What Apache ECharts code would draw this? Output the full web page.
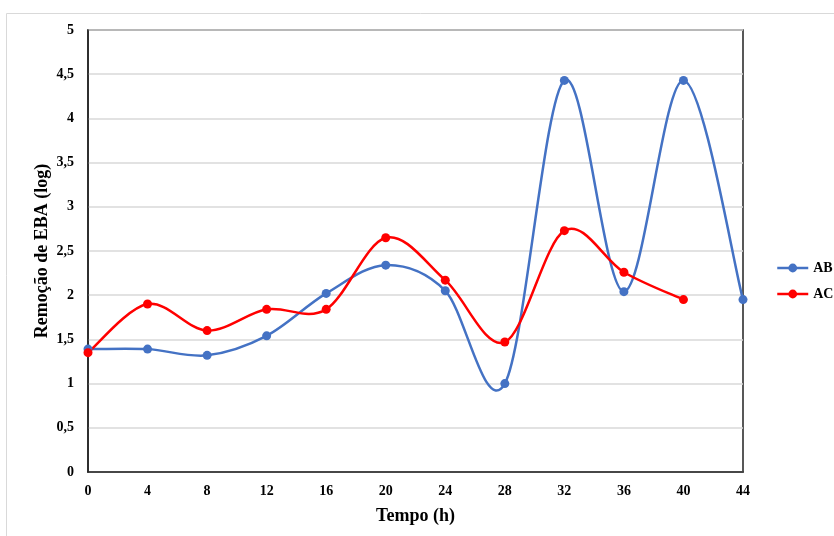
<!DOCTYPE html>
<html><head><meta charset="utf-8">
<script src="https://cdn.jsdelivr.net/npm/echarts@6/dist/echarts.min.js"></script>
<style>html,body{margin:0;padding:0;background:#fff}#c{width:834px;height:536px}</style>
</head><body><div id="c"></div>
<script>
const hours = [0, 4, 8, 12, 16, 20, 24, 28, 32, 36, 40, 44];
const abValues = [1.39, 1.39, 1.32, 1.54, 2.02, 2.34, 2.05, 1.00, 4.43, 2.04, 4.43, 1.95];
const acValues = [1.35, 1.90, 1.60, 1.84, 1.84, 2.65, 2.17, 1.47, 2.73, 2.26, 1.95];
const seriesNames = ['AB', 'AC'];
const seriesColors = ['#4472C4', '#FF0000'];
const xTitle = 'Tempo (h)';
const yTitle = 'Remoção de EBA (log)';

const font = '"Liberation Serif", "Times New Roman", serif';
const chart = echarts.init(document.getElementById('c'), null, {renderer: 'canvas'});
const pairs = vals => vals.map((v, i) => [hours[i], v]);

// Catmull-Rom style smoothed segment (like spreadsheet "smoothed line"), drawn via axis coords
function smoothSeries(name, vals, color) {
  const data = pairs(vals);
  return {
    name: name, type: 'custom', z: 1, silent: true, data: data,
    encode: {x: 0, y: 1},
    renderItem: function (params, api) {
      const i = params.dataIndex;
      if (i >= data.length - 1) return null;
      const p = k => api.coord(data[Math.max(0, Math.min(data.length - 1, k))]);
      const p0 = p(i - 1), p1 = p(i), p2 = p(i + 1), p3 = p(i + 2);
      return {
        type: 'bezierCurve',
        shape: {
          x1: p1[0], y1: p1[1], x2: p2[0], y2: p2[1],
          cpx1: p1[0] + (p2[0] - p0[0]) / 6, cpy1: p1[1] + (p2[1] - p0[1]) / 6,
          cpx2: p2[0] - (p3[0] - p1[0]) / 6, cpy2: p2[1] - (p3[1] - p1[1]) / 6
        },
        style: {stroke: color, lineWidth: 2.5, fill: null}
      };
    }
  };
}

chart.setOption({
  animation: false,
  graphic: [{type: 'rect', shape: {x: 6.5, y: 13.5, width: 900, height: 600}, style: {fill: 'none', stroke: '#d9d9d9', lineWidth: 1}, z: -1}],
  grid: {left: 88, right: 91, top: 30, bottom: 64, show: true, borderColor: '#222', borderWidth: 1.5},
  legend: {
    orient: 'vertical', left: 771, top: 256, itemGap: 12, itemWidth: 31, itemHeight: 11,
    textStyle: {fontFamily: font, fontWeight: 'bold', fontSize: 14, color: '#000'},
    data: seriesNames.map((n, k) => ({name: n,
      itemStyle: {color: seriesColors[k]}, lineStyle: {color: seriesColors[k], width: 2.5, opacity: 1}}))
  },
  xAxis: {
    type: 'value', min: 0, max: 44, interval: 4,
    name: xTitle, nameLocation: 'middle', nameGap: 35, nameMoveOverlap: false,
    nameTextStyle: {fontFamily: font, fontWeight: 'bold', fontSize: 18, color: '#000'},
    axisLine: {lineStyle: {color: '#222', width: 1.5}}, axisTick: {show: false},
    axisLabel: {fontFamily: font, fontWeight: 'bold', fontSize: 14, color: '#000', margin: 12},
    splitLine: {show: false}
  },
  yAxis: {
    type: 'value', min: 0, max: 5, interval: 0.5,
    name: yTitle, nameLocation: 'middle', nameGap: 37, nameMoveOverlap: false,
    nameTextStyle: {fontFamily: font, fontWeight: 'bold', fontSize: 18, color: '#000'},
    axisLine: {show: true, lineStyle: {color: '#222', width: 1.5}}, axisTick: {show: false},
    axisLabel: {fontFamily: font, fontWeight: 'bold', fontSize: 14, color: '#000', margin: 14,
      formatter: v => String(v).replace('.', ',')},
    splitLine: {lineStyle: {color: '#d9d9d9', width: 1.5}}
  },
  series: [
    {name: seriesNames[0], type: 'line', data: pairs(abValues), z: 3,
     symbol: 'circle', symbolSize: 9, itemStyle: {color: seriesColors[0]}, lineStyle: {color: seriesColors[0], width: 2.5, opacity: 0}},
    {name: seriesNames[1], type: 'line', data: pairs(acValues), z: 3,
     symbol: 'circle', symbolSize: 9, itemStyle: {color: seriesColors[1]}, lineStyle: {color: seriesColors[1], width: 2.5, opacity: 0}},
    smoothSeries(seriesNames[0], abValues, seriesColors[0]),
    smoothSeries(seriesNames[1], acValues, seriesColors[1])
  ]
});
</script></body></html>
